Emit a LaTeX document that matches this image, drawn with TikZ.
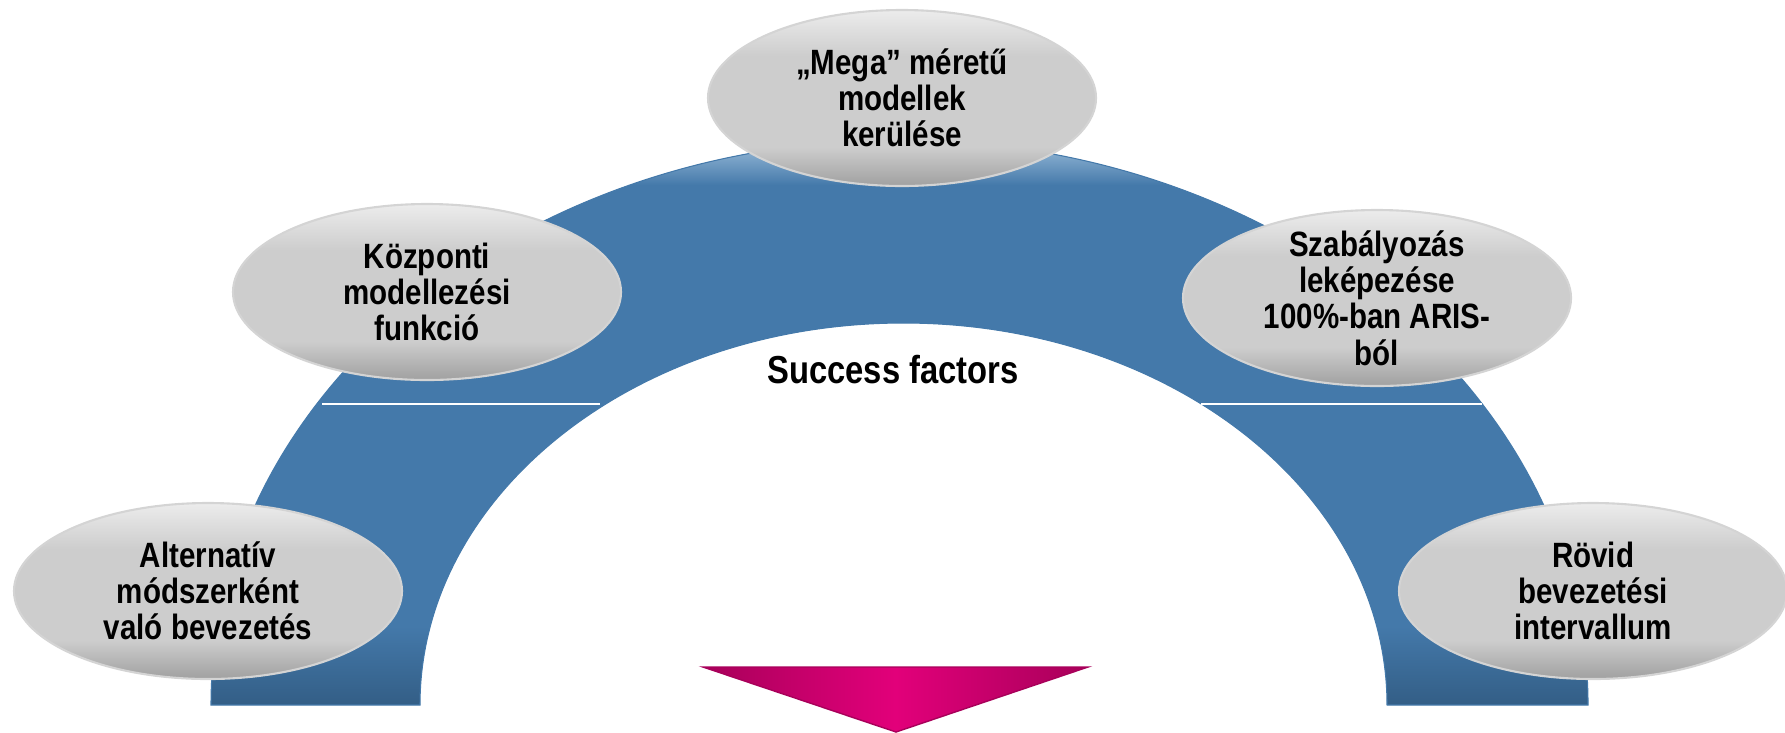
\documentclass[tikz,border=0pt]{standalone}
\usepackage{fontspec}
\setmainfont{Liberation Sans}[FakeStretch=0.84]
\usetikzlibrary{shapes.geometric}

\definecolor{archblue}{RGB}{68,121,170}
\definecolor{archdark}{RGB}{51,94,134}
\definecolor{archlight}{RGB}{160,192,220}
\definecolor{ovalrim}{RGB}{212,212,212}
\definecolor{ovaltop}{RGB}{236,236,236}
\definecolor{ovalmid}{RGB}{205,205,205}
\definecolor{ovalbot}{RGB}{160,160,160}
\definecolor{tmagenta}{RGB}{226,0,122}
\definecolor{tmagdark}{RGB}{168,0,90}

\pgfdeclareverticalshading{archshade}{100bp}{color(0bp)=(archdark); color(25bp)=(archdark); color(32bp)=(archblue); color(71bp)=(archblue); color(75bp)=(archlight); color(100bp)=(archlight)}
\pgfdeclareverticalshading{ovalshade}{100bp}{color(0bp)=(ovalbot); color(25bp)=(ovalbot); color(36bp)=(ovalmid); color(62bp)=(ovalmid); color(75bp)=(ovaltop); color(100bp)=(ovaltop)}

\begin{document}
\begin{tikzpicture}[
    factor/.style={ellipse, draw=ovalrim, line width=0.6pt, shading=ovalshade,
        minimum width=3.88cm, minimum height=1.76cm, inner xsep=0pt, inner ysep=-3mm,
        align=center, font=\fontsize{10}{10.3}\selectfont\bfseries},
]
    \useasboundingbox (0,0) rectangle (17.85,7.32);
    % arch
    \path[shading=archshade, draw=archblue, line width=0.3pt]
        (2.11,0.27) arc[start angle=180, end angle=0, x radius=6.885, y radius=5.65]
        -- (13.87,0.27) arc[start angle=0, end angle=180, x radius=4.835, y radius=3.82]
        -- cycle;
    \draw[white, line width=0.5pt]
        (3.22,3.28) -- (6.00,3.28)
        (12.01,3.28) -- (14.82,3.28)
    ;
    \node[anchor=base, font=\fontsize{11.1}{13}\selectfont\bfseries] (title) at (8.93,3.49) {Success factors};
    % arrow
    \path[left color=tmagdark, right color=tmagdark, middle color=tmagenta, draw=tmagdark, line width=0.4pt]
        (7.03,0.65) -- (10.88,0.65) -- (8.96,0) -- cycle;
    % factors
    \node[factor] (mega) at (9.02,6.34) {„Mega” méretű\\modellek\\kerülése};
    \node[factor] (kozponti) at (4.27,4.40) {Központi\\modellezési\\funkció};
    \node[factor] (szabaly) at (13.77,4.34) {Szabályozás\\leképezése\\100\%-ban ARIS-\\ból};
    \node[factor] (alternativ) at (2.08,1.41) {Alternatív\\módszerként\\való bevezetés};
    \node[factor] (rovid) at (15.93,1.41) {Rövid\\bevezetési\\intervallum};
\end{tikzpicture}
\end{document}
